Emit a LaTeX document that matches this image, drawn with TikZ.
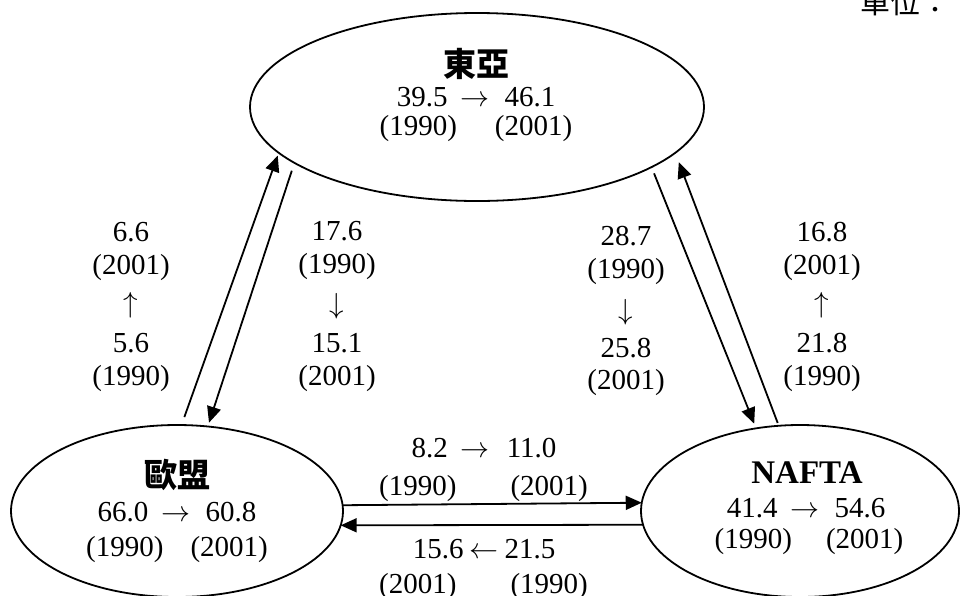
\documentclass[tikz,border=0pt]{standalone}
\usepackage{graphicx}
\usepackage{fontspec}
\setmainfont{Liberation Serif}
\newfontfamily\cjk{Noto Sans CJK TC}
\usetikzlibrary{shapes.geometric,arrows.meta}
\newcommand\myra{\scalebox{1.166}{$\rightarrow$}}
\newcommand\myla{\scalebox{1.166}{$\leftarrow$}}
\newcommand\myua{\scalebox{1.166}{$\uparrow$}}
\newcommand\myda{\scalebox{1.166}{$\downarrow$}}
\begin{document}
\begin{tikzpicture}[x=1pt,y=-1pt,
  region/.style={ellipse, draw, line width=1.8pt, inner sep=0pt, outer sep=0pt},
  conn/.style={line width=1.8pt, -{Triangle[length=16pt,width=14pt]}},
  num/.style={font=\fontsize{29}{33}\selectfont, inner sep=0pt, anchor=base},
  arw/.style={font=\fontsize{29}{33}\selectfont, inner sep=0pt, anchor=center},
  cjkttl/.style={font=\fontsize{33}{36}\selectfont\cjk\bfseries, inner sep=0pt, anchor=base},
  latttl/.style={font=\fontsize{33}{36}\selectfont\bfseries, inner sep=0pt, anchor=base}]
\useasboundingbox (0,0) rectangle (960,595);
\fill[white] (0,0) rectangle (960,595);

% unit note (cut off at the top edge)
\node[font=\fontsize{30}{32}\selectfont\cjk, inner sep=0pt, anchor=base west] (unit) at (860,13) {單位：};

% regions
\node[region, minimum width=454pt, minimum height=188pt] (ea) at (477,107) {};
\node[region, minimum width=332pt, minimum height=172pt] (eu) at (177,511) {};
\node[region, minimum width=318pt, minimum height=172pt] (na) at (800,511) {};

% texts inside regions
\node[cjkttl] (eat) at (476,76) {東亞};
\node[num] (ean) at (476,106) {39.5\hspace{13pt}\myra\hspace{15pt}46.1};
\node[num] (eay) at (476,135) {(1990)\hspace{38pt}(2001)};

\node[cjkttl] (eut) at (177,487) {歐盟};
\node[num] (eun) at (177,521) {66.0\hspace{13pt}\myra\hspace{15pt}60.8};
\node[num] (euy) at (177,556) {(1990)\hspace{27pt}(2001)};

\node[latttl] (nat) at (807,483) {NAFTA};
\node[num] (nan) at (806,517) {41.4\hspace{13pt}\myra\hspace{15pt}54.6};
\node[num] (nay) at (809,548) {(1990)\hspace{34pt}(2001)};

% connectors
\draw[conn, shorten <=8.5pt, shorten >=3pt] (eu.87.3) -- (ea.193.1);
\draw[conn, shorten <=8.3pt, shorten >=4pt] (ea.197.6) -- (eu.70.2);
\draw[conn, shorten <=6.8pt, shorten >=5pt] (ea.341.7) -- (na.118.4);
\draw[conn, shorten <=3pt, shorten >=10pt] (na.104.4) -- (ea.347.5);
\draw[conn] (eu.2.07) -- (na.177.8);
\draw[conn] (na.185.1) -- (eu.355.1);

% left pair labels
\node[num] (l1) at (131,241) {6.6};
\node[num] (l2) at (131,274) {(2001)};
\node[arw] (l3) at (131,305) {\myua};
\node[num] (l4) at (131,352) {5.6};
\node[num] (l5) at (131,385) {(1990)};

\node[num] (m1) at (337,240) {17.6};
\node[num] (m2) at (337,273) {(1990)};
\node[arw] (m3) at (337,306) {\myda};
\node[num] (m4) at (337,352) {15.1};
\node[num] (m5) at (337,385) {(2001)};

% right pair labels
\node[num] (r1) at (626,245) {28.7};
\node[num] (r2) at (626,278) {(1990)};
\node[arw] (r3) at (626,312) {\myda};
\node[num] (r4) at (626,357) {25.8};
\node[num] (r5) at (626,389) {(2001)};

\node[num] (s1) at (822,241) {16.8};
\node[num] (s2) at (822,274) {(2001)};
\node[arw] (s3) at (822,305) {\myua};
\node[num] (s4) at (822,352) {21.8};
\node[num] (s5) at (822,385) {(1990)};

% horizontal labels
\node[num] (h1) at (484,457) {8.2\hspace{13pt}\myra\hspace{17pt}11.0};
\node[num] (h2) at (483.5,495) {(1990)\hspace{54pt}(2001)};
\node[num] (h3) at (484,558) {15.6\hspace{6pt}\myla\hspace{6pt}21.5};
\node[num] (h4) at (483.5,593) {(2001)\hspace{54pt}(1990)};
\end{tikzpicture}
\end{document}
